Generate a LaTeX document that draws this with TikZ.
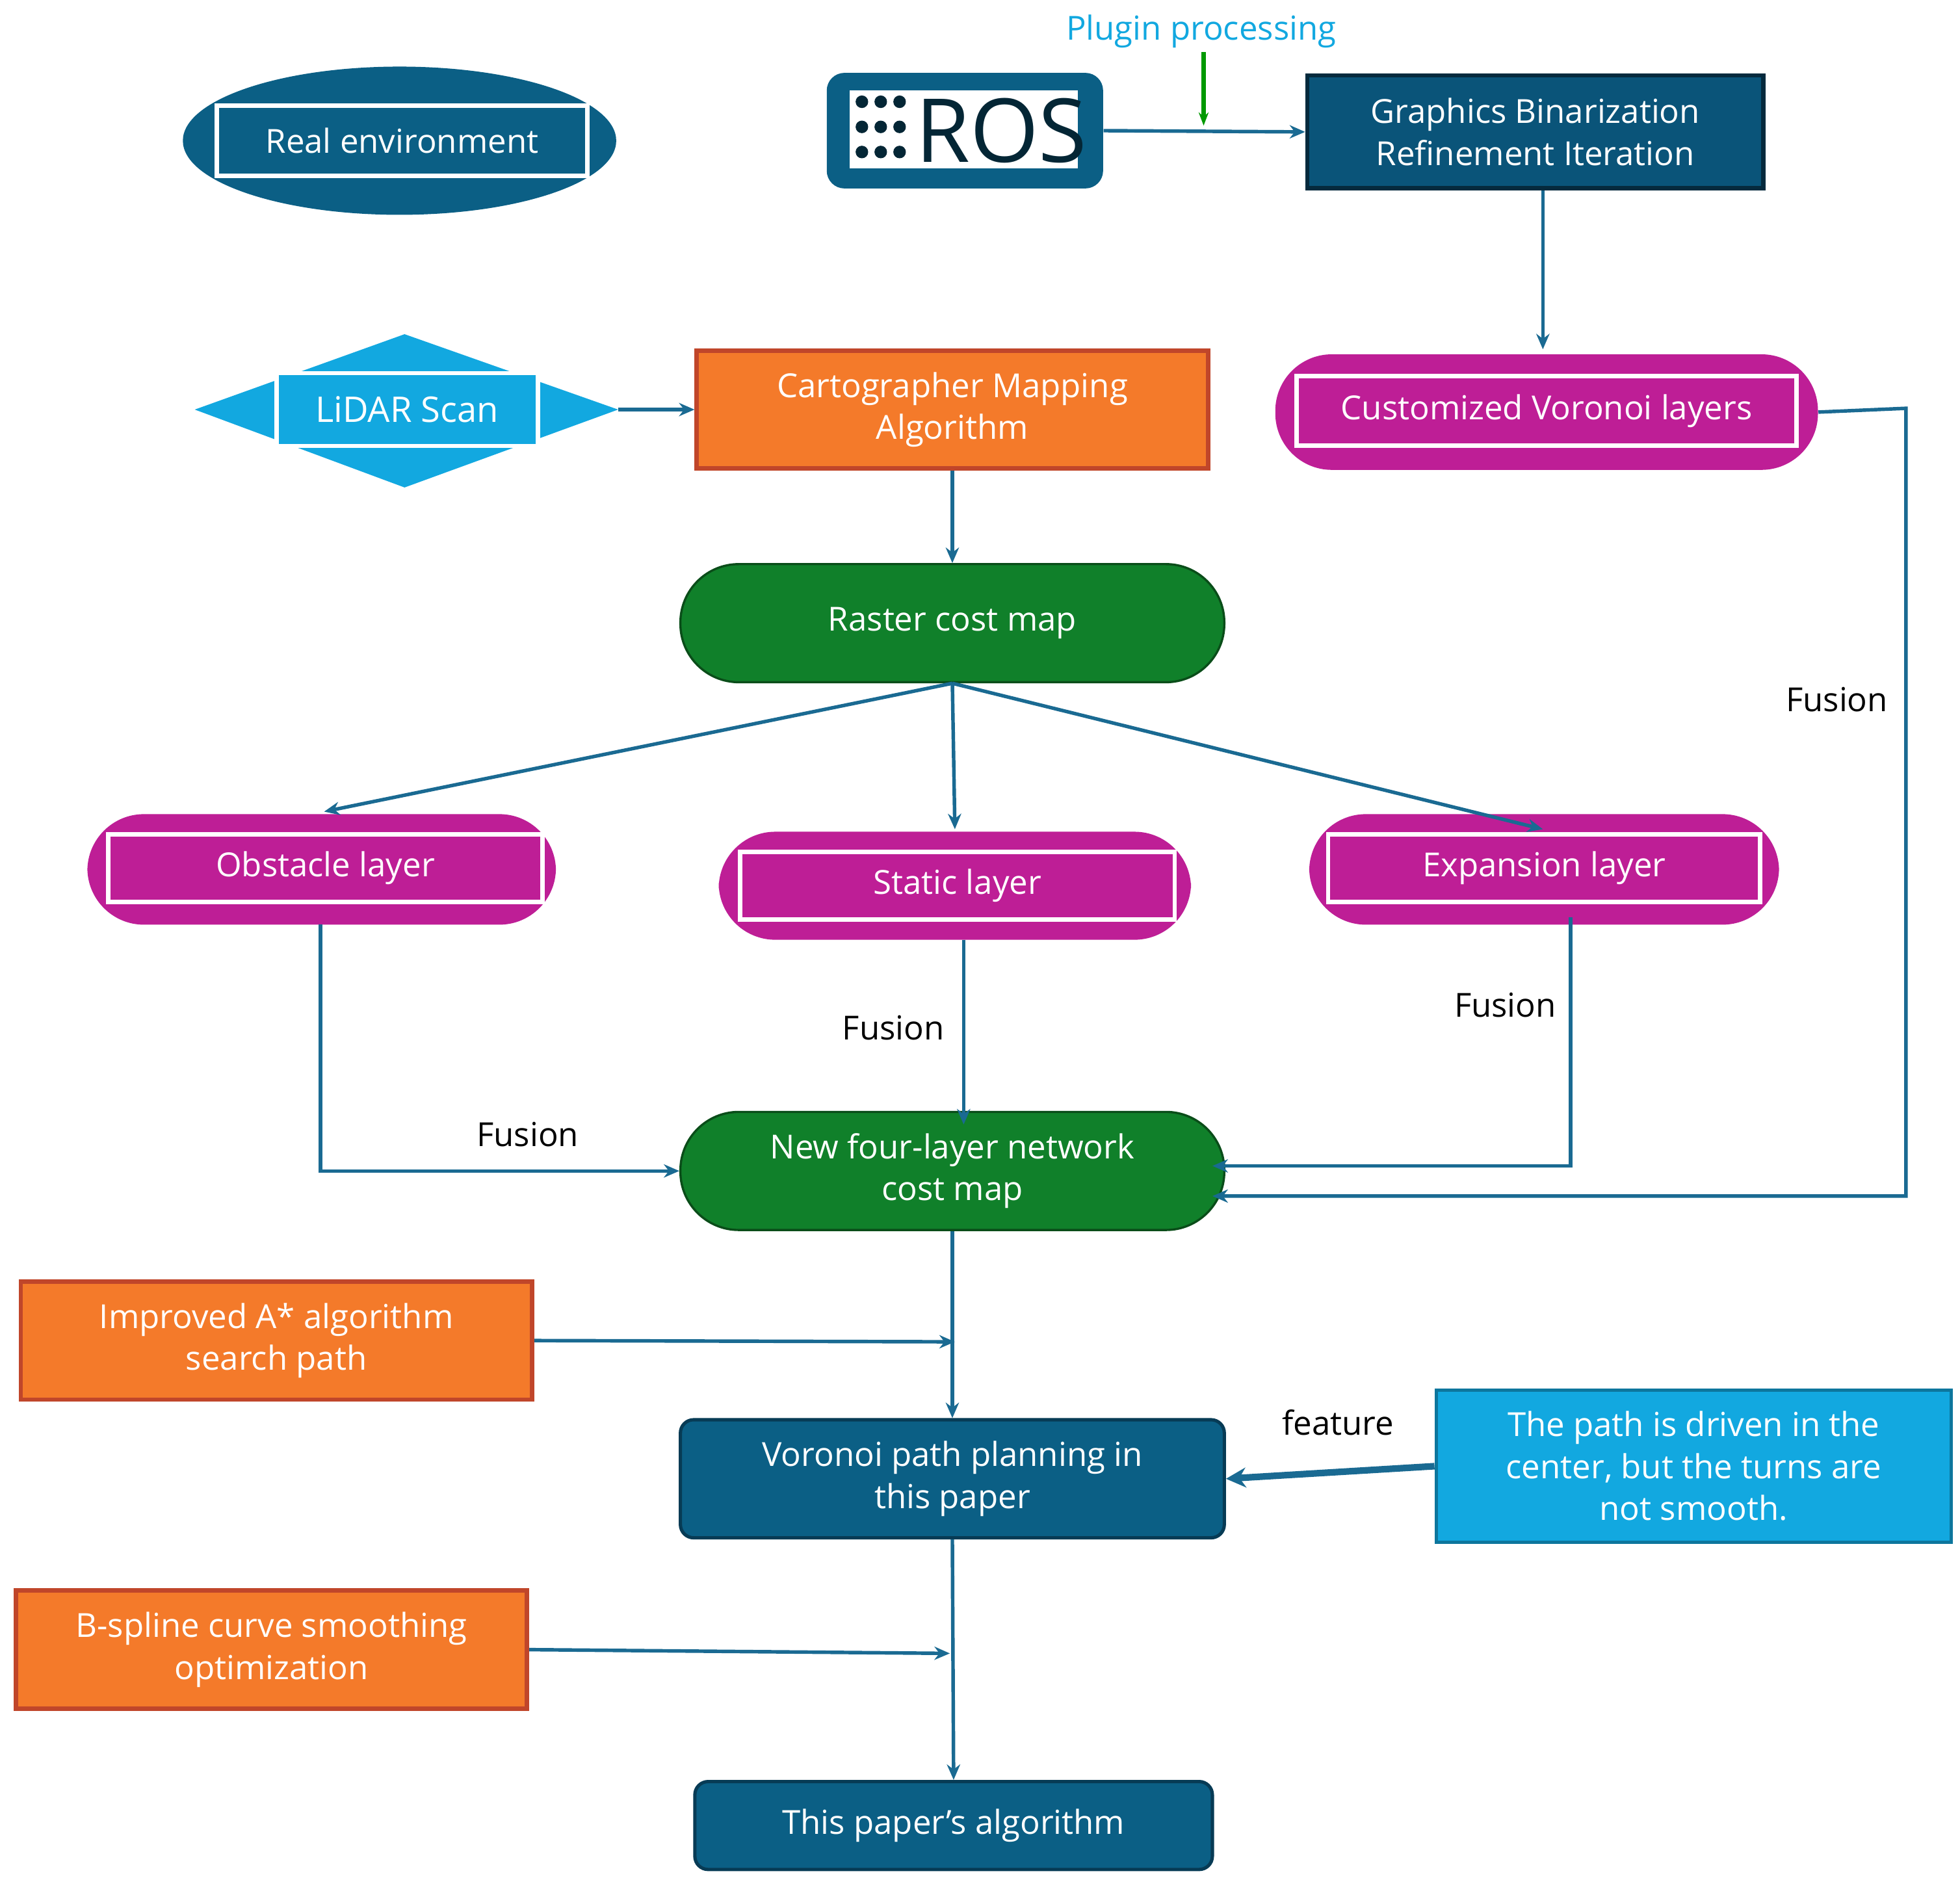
\documentclass[tikz,border=0pt]{standalone}
\usepackage{fontspec}
\setmainfont{Open Sans}
\usetikzlibrary{arrows.meta,shapes.geometric}
\definecolor{teal}{HTML}{0B5F85}
\definecolor{dteal}{HTML}{0A5479}
\definecolor{lblue}{HTML}{12A8E0}
\definecolor{mag}{HTML}{BE1E96}
\definecolor{org}{HTML}{F47A2A}
\definecolor{orgb}{HTML}{C0462A}
\definecolor{grn}{HTML}{10802A}
\definecolor{ln}{HTML}{1A6A92}
\begin{document}
\begin{tikzpicture}[x=0.02cm,y=-0.02cm,
  every node/.style={font=\fontsize{15}{19}\selectfont,align=center,inner sep=0pt},
  arr/.style={draw=ln,line width=1.6pt,-{Stealth[length=7pt,width=6pt]}},
  wtxt/.style={text=white},
  pill/.style={fill=mag,rounded corners=0.9cm,minimum height=1.84cm},
  inner/.style={fill=mag,draw=white,line width=2pt,minimum height=1.1cm,text=white},
  obox/.style={fill=org,draw=orgb,line width=2pt,text=white,minimum width=8.14cm,minimum height=1.88cm},
  gpill/.style={fill=grn,draw=grn!60!black,line width=1pt,rounded corners=0.93cm,minimum width=8.66cm,minimum height=1.88cm,text=white},
  tbox/.style={fill=teal,draw=dteal!70!black,line width=1.5pt,rounded corners=6pt,text=white,minimum width=8.66cm,minimum height=1.88cm},
  flab/.style={text=black}]
\useasboundingbox (0,0) rectangle (1560,1496);
% Real environment
\node[ellipse,fill=teal,minimum width=6.9cm,minimum height=2.36cm] (realbg) at (318,112) {};
\node[fill=teal,draw=white,line width=2pt,minimum width=5.9cm,minimum height=1.12cm,text=white] (real) at (320,112) {Real environment};
% LiDAR
\fill[lblue] (155,326) -- (322,266) -- (492,326) -- (322,388) -- cycle;
\node[fill=lblue,draw=white,line width=2pt,minimum width=4.16cm,minimum height=1.16cm,text=white] (lidar) at (324,326) {\fontsize{16}{19}\selectfont LiDAR Scan};
\coordinate (lidarE) at (492,326);
% ROS
\node[fill=teal,rounded corners=8pt,minimum width=4.4cm,minimum height=1.84cm] (ros) at (768,104) {};
\node[fill=white,minimum width=3.64cm,minimum height=1.24cm] (rosw) at (767,103) {};
\foreach \i in {0,1,2}\foreach \j in {0,1,2}{\fill[teal!40!black] (686+\i*15,81+\j*20) circle (5);}
\node[text=teal!40!black,font=\fontsize{40}{40}\selectfont] (rost) at (797,104) {ROS};
% Graphics
\node[fill=dteal,draw=dteal!50!black,line width=2pt,minimum width=7.26cm,minimum height=1.8cm,text=white] (gfx) at (1222,105) {Graphics Binarization\\Refinement Iteration};
\node[text=lblue] (plug) at (956,25) {Plugin processing};
\draw[draw=green!60!black,line width=2pt,-{Stealth[length=6pt]}] (plug.south) ++(2,3) -- (958,100);
\draw[arr] (ros.east) -- (gfx.west);
% Customized Voronoi
\node[pill,minimum width=8.64cm] (cvlbg) at (1231,328) {};
\node[inner,minimum width=7.96cm] (cvl) at (1231,327) {Customized Voronoi layers};
\draw[arr] (gfx.south) ++(6,0) -- (1228,278);
% Cartographer
\node[obox] (carto) at (758,326) {Cartographer Mapping\\Algorithm};
\draw[arr] (lidarE) -- (carto.west);
% Raster
\node[gpill] (raster) at (758,496) {Raster cost map};
\draw[arr] (carto.south) -- (raster.north);
% layers
\node[pill,minimum width=7.46cm,minimum height=1.76cm] (obsbg) at (256,692) {};
\node[inner,minimum width=6.92cm,minimum height=1.08cm] (obs) at (259,691) {Obstacle layer};
\node[pill,minimum width=7.52cm,minimum height=1.72cm] (stabg) at (760,705) {};
\node[inner,minimum width=6.92cm,minimum height=1.08cm] (sta) at (762,705) {Static layer};
\node[pill,minimum width=7.48cm,minimum height=1.76cm] (expbg) at (1229,692) {};
\node[inner,minimum width=6.88cm,minimum height=1.08cm] (exp) at (1229,691) {Expansion layer};
\draw[arr] (raster.south) -- (258,646);
\draw[arr] (raster.south) -- (760,660);
\draw[arr] (raster.south) -- (1228,660);
% New map
\node[gpill] (new) at (758,932) {New four-layer network\\cost map};
\draw[arr] (255,736) |- (new.west);
\draw[arr] (767,748) -- (767,895);
\draw[arr] (1250,730) |- (965,928);
\draw[arr] (cvlbg.east) -- (1517,325) |- (965,952);
\node[flab] at (420,903) {Fusion};
\node[flab] at (711,818) {Fusion};
\node[flab] at (1198,800) {Fusion};
\node[flab] at (1462,557) {Fusion};
% Voronoi path
\node[tbox] (vor) at (758,1177) {Voronoi path planning in\\this paper};
\draw[arr] (new.south) -- (vor.north);
\node[obox] (astar) at (220,1067) {Improved A* algorithm\\search path};
\draw[arr] (astar.east) -- (760,1068);
\node[fill=lblue,draw=lblue!70!black,line width=1.5pt,minimum width=8.2cm,minimum height=2.42cm,text=white] (feat) at (1348,1167) {The path is driven in the\\center, but the turns are\\not smooth.};
\draw[draw=ln,line width=3pt,-{Stealth[length=9pt,width=9pt]}] (feat.west) -- (vor.east);
\node[flab] at (1065,1132) {feature};
% B-spline
\node[obox] (bsp) at (216,1313) {B-spline curve smoothing\\optimization};
\node[tbox,minimum width=8.24cm,minimum height=1.4cm] (alg) at (759,1453) {This paper's algorithm};
\draw[arr] (vor.south) -- (alg.north);
\draw[arr] (bsp.east) -- (756,1316);
\end{tikzpicture}
\end{document}
